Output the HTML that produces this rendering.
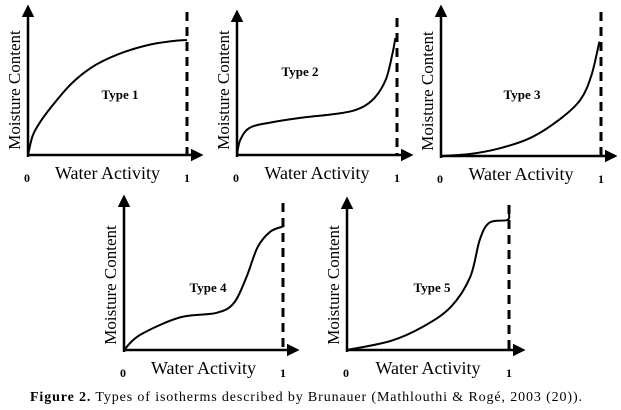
<!DOCTYPE html>
<html><head><meta charset="utf-8"><style>
html,body{margin:0;padding:0;background:#fff;}
svg{display:block;font-family:"Liberation Serif",serif;}
</style></head><body>
<svg id="fig" width="621" height="410" viewBox="0 0 621 410">
<defs><marker id="ah" viewBox="0 0 10 10" refX="8" refY="5" markerWidth="5" markerHeight="5" orient="auto"><path d="M0,0L10,5L0,10z" fill="#000"/></marker></defs>
<text x="30" y="401" font-size="14" textLength="552" lengthAdjust="spacing"><tspan font-weight="bold">Figure 2.</tspan> Types of  isotherms described by Brunauer (Mathlouthi &amp; Rogé, 2003 (20)).</text>
</svg>
<script>
const type1X=[0,0.03,0.08,0.14,0.25,0.35,0.45,0.6,0.77,0.9,1];
const type1Y=[0,0.15,0.26,0.36,0.52,0.63,0.71,0.79,0.85,0.875,0.885];
const type2X=[0,0.02,0.08,0.21,0.39,0.64,0.77,0.86,0.93,0.97,0.99];
const type2Y=[0,0.115,0.21,0.25,0.285,0.32,0.36,0.44,0.58,0.77,0.9];
const type3X=[0,0.18,0.37,0.56,0.74,0.87,0.94,0.99];
const type3Y=[0,0.015,0.06,0.14,0.28,0.43,0.62,0.88];
const type4X=[0,0.1,0.35,0.58,0.69,0.77,0.84,0.92,1];
const type4Y=[0,0.115,0.25,0.285,0.36,0.56,0.79,0.91,0.95];
const type5X=[0,0.27,0.47,0.64,0.76,0.82,0.88,0.99,1];
const type5Y=[0,0.07,0.18,0.33,0.56,0.85,0.98,1.0,1.05];
const panelLabels=["Type 1","Type 2","Type 3","Type 4","Type 5"];
const panels=[
 {ax:28,ay:155,top:5,dash:187,dtop:12,xs:type1X,ys:type1Y,lx:120,ly:99},
 {ax:237,ay:155,top:10,dash:397,dtop:18,xs:type2X,ys:type2Y,lx:300,ly:76},
 {ax:441,ay:156,top:5,dash:601,dtop:12,xs:type3X,ys:type3Y,lx:522,ly:99},
 {ax:124,ay:350,top:195,dash:283,dtop:203,xs:type4X,ys:type4Y,lx:208,ly:292},
 {ax:347,ay:350,top:197,dash:509,dtop:205,xs:type5X,ys:type5Y,lx:432,ly:292}
];
const NS="http://www.w3.org/2000/svg";
const svg=document.getElementById('fig');
function mk(tag,attrs,parent){const e=document.createElementNS(NS,tag);for(const k in attrs)e.setAttribute(k,attrs[k]);(parent||svg).appendChild(e);return e;}
panels.forEach((p,i)=>{
 const g=mk('g',{});
 
 
 const W=p.dash-p.ax, H=130;
 const sx=v=>p.ax+v*W, sy=v=>p.ay-v*H;
 const ya=mk('line',{x1:p.ax,y1:p.ay+2,x2:p.ax,y2:p.top+2,stroke:'#000','stroke-width':2.5,'marker-end':'url(#ah)'},g);
 
 
 const xa=mk('line',{x1:p.ax,y1:p.ay,x2:p.dash+14,y2:p.ay,stroke:'#000','stroke-width':2.5,'marker-end':'url(#ah)'},g);
 
 
 const dl=mk('line',{x1:p.dash,y1:p.dtop,x2:p.dash,y2:p.ay,stroke:'#000','stroke-width':3,'stroke-dasharray':'9,6'},g);
 
 
 const pts=p.xs.map((x,j)=>[sx(x),sy(p.ys[j])]);
 let d='M'+pts[0][0]+','+pts[0][1];
 for(let j=0;j<pts.length-1;j++){
  const p0=pts[Math.max(0,j-1)],p1=pts[j],p2=pts[j+1],p3=pts[Math.min(pts.length-1,j+2)];
  const c1=[p1[0]+(p2[0]-p0[0])/6,p1[1]+(p2[1]-p0[1])/6];
  const c2=[p2[0]-(p3[0]-p1[0])/6,p2[1]-(p3[1]-p1[1])/6];
  d+=` C${c1[0]},${c1[1]} ${c2[0]},${c2[1]} ${p2[0]},${p2[1]}`;
 }
 const cv=mk('path',{d:d,fill:'none',stroke:'#000','stroke-width':2},g);
 
 
 const t0=mk('text',{x:p.ax-1,y:p.ay+27,'font-size':12,'font-weight':'bold','text-anchor':'middle'},g);t0.textContent='0';
 
 
 const t1=mk('text',{x:p.dash,y:p.ay+27,'font-size':12,'font-weight':'bold','text-anchor':'middle'},g);t1.textContent='1';
 
 
 const xt=mk('text',{x:(p.ax+p.dash)/2,y:p.ay+24,'font-size':18,'text-anchor':'middle'},g);xt.textContent='Water Activity';
 
 
 const cy=p.ay-65;
 const yt=mk('text',{x:p.ax-8,y:cy,'font-size':17,'text-anchor':'middle',transform:`rotate(-90 ${p.ax-8} ${cy})`},g);yt.textContent='Moisture Content';
 
 
 const lb=mk('text',{x:p.lx,y:p.ly,'font-size':13,'font-weight':'bold','text-anchor':'middle'},g);lb.textContent=panelLabels[i];
 
 
});
</script>
</body></html>
